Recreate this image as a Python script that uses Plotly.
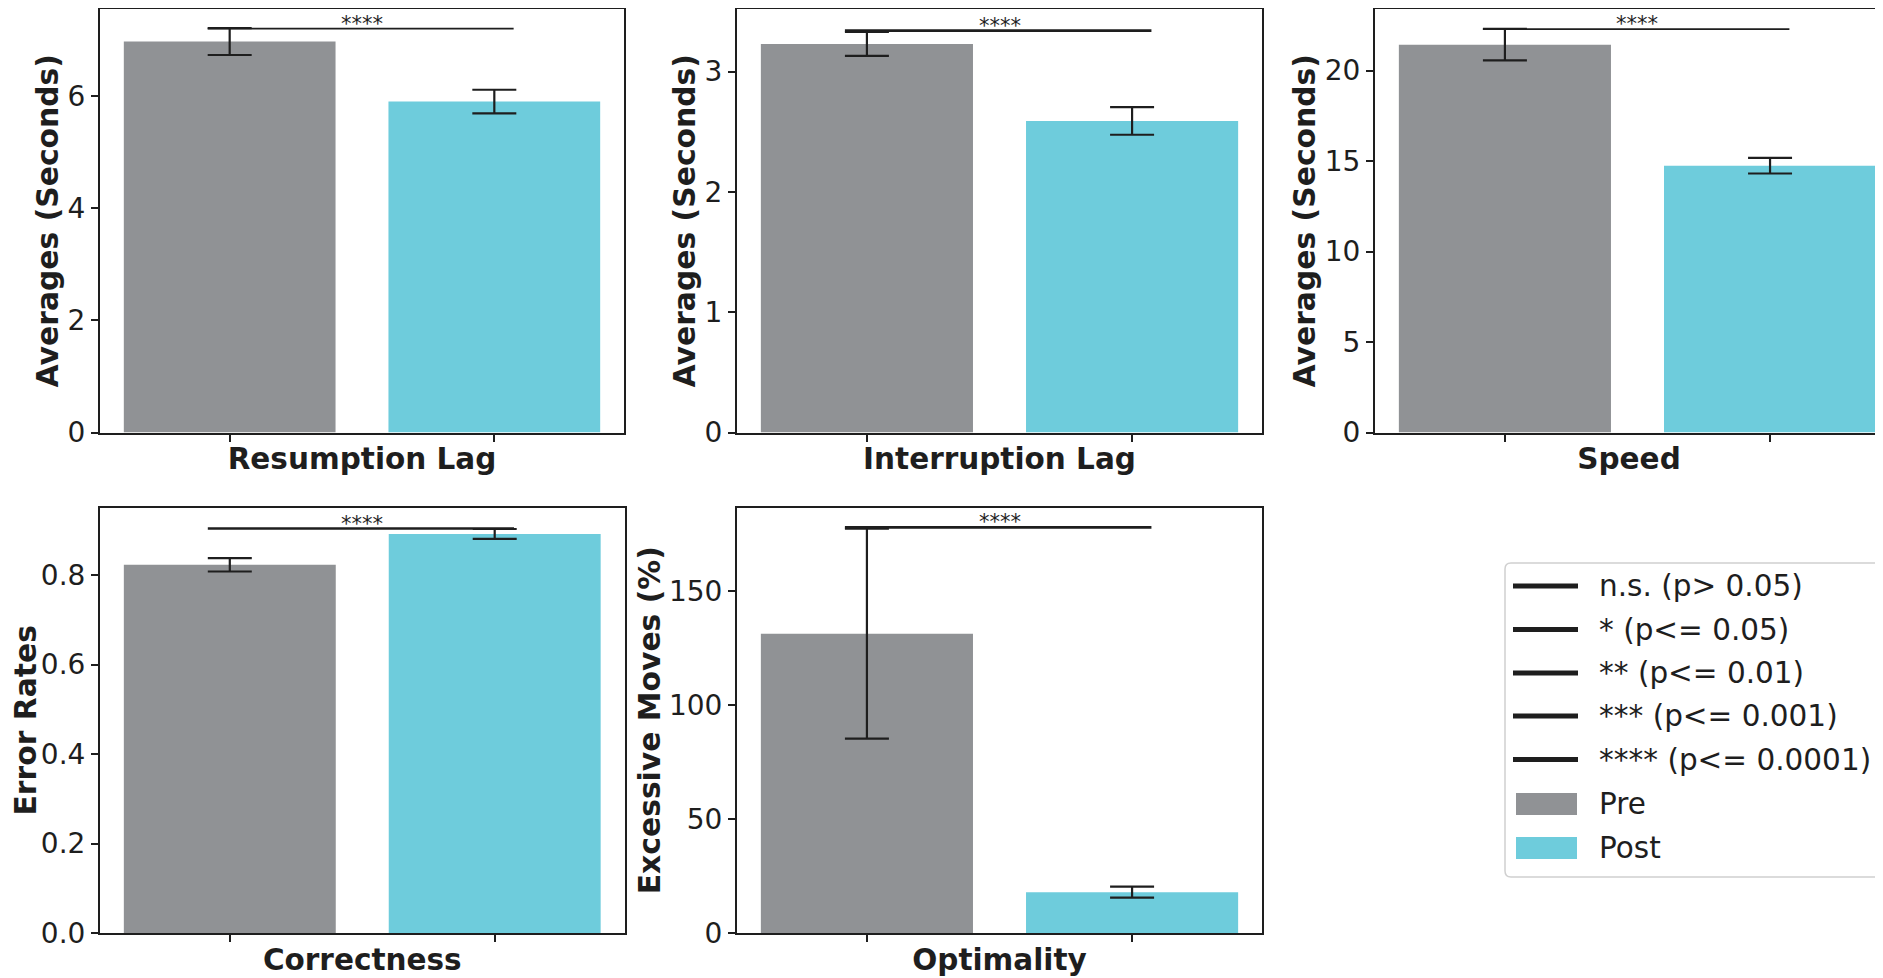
import plotly.graph_objects as go

# ---------------- data ----------------
metrics = ["Resumption Lag", "Interruption Lag", "Speed", "Correctness", "Optimality"]
y_titles = ["Averages (Seconds)", "Averages (Seconds)", "Averages (Seconds)",
            "Error Rates", "Excessive Moves (%)"]
groups = ["Pre", "Post"]
pre_mean = [6.97, 3.23, 21.43, 0.823, 131.2]
pre_err = [0.24, 0.10, 0.87, 0.015, 46.0]
post_mean = [5.90, 2.59, 14.74, 0.892, 17.9]
post_err = [0.21, 0.115, 0.43, 0.011, 2.4]
sig_level = [7.20, 3.34, 22.29, 0.904, 177.8]
sig_text = ["****", "****", "****", "****", "****"]
y_tick_vals = [[0, 2, 4, 6], [0, 1, 2, 3], [0, 5, 10, 15, 20],
               [0, 0.2, 0.4, 0.6, 0.8], [0, 50, 100, 150]]
y_tick_text = [["0", "2", "4", "6"], ["0", "1", "2", "3"], ["0", "5", "10", "15", "20"],
               ["0.0", "0.2", "0.4", "0.6", "0.8"], ["0", "50", "100", "150"]]
y_max = [7.55, 3.52, 23.4, 0.951, 186.5]
legend_labels = ["n.s. (p> 0.05)", "* (p<= 0.05)", "** (p<= 0.01)",
                 "*** (p<= 0.001)", "**** (p<= 0.0001)"]

# ---------------- style / layout ----------------
PAGE_W, PAGE_H = 1883, 978
OFF = 8                      # default body margin of the html page
W, H = PAGE_W - OFF, PAGE_H - OFF
GRAY = "#909295"
CYAN = "#6ECCDC"
INK = "#1e1e1e"
FONT = "DejaVu Sans"

# panel frames in page pixels: (left, right, top, bottom)
frames = [(100, 624, 9, 432.5), (737, 1262, 9, 432.5), (1375, 1883, 9, 432.5),
          (100, 624.5, 507.5, 933), (737, 1262, 507.5, 933)]
x_ranges = [[-0.49, 1.49], [-0.49, 1.49], [-0.49, 1.426], [-0.49, 1.49], [-0.49, 1.49]]
sig_line_w = [1.6, 2.6, 1.6, 2.6, 2.6]


def px(x):
    return (x - OFF) / W


def py(y):
    return 1 - (y - OFF) / H


fig = go.Figure()
layout = dict(
    width=W, height=H, margin=dict(l=0, r=0, t=0, b=0, autoexpand=False),
    paper_bgcolor="white", plot_bgcolor="white", barmode="overlay",
    showlegend=False, font=dict(family=FONT, color=INK),
)
annotations = []
shapes = []

for i in range(5):
    n = "" if i == 0 else str(i + 1)
    xa, ya = "x" + n, "y" + n
    l, r, t, b = frames[i]
    for j, (g, m, e, c) in enumerate(zip(groups, [pre_mean[i], post_mean[i]],
                                         [pre_err[i], post_err[i]], [GRAY, CYAN])):
        fig.add_trace(go.Bar(
            x=[j], y=[m], name=g, width=0.8, marker=dict(color=c, line=dict(width=0)),
            error_y=dict(type="data", array=[e], color=INK, thickness=2.2, width=22),
            xaxis=xa, yaxis=ya, showlegend=False,
        ))
    # significance bracket
    fig.add_trace(go.Scatter(
        x=[-0.083, 1.073], y=[sig_level[i], sig_level[i]], mode="lines",
        line=dict(color=INK, width=sig_line_w[i]), xaxis=xa, yaxis=ya,
        showlegend=False, hoverinfo="skip",
    ))
    annotations.append(dict(
        x=0.5, y=sig_level[i], xref=xa, yref=ya, text=sig_text[i], showarrow=False,
        xanchor="center", yanchor="bottom", yshift=-9,
        font=dict(family=FONT, size=21, color=INK),
    ))
    layout["xaxis" + n] = dict(
        domain=[px(l), min(1.0, px(r))], range=x_ranges[i], anchor=ya,
        tickvals=[0, 1], showticklabels=False, ticks="outside", ticklen=7,
        tickwidth=1.6, tickcolor=INK, showline=True, linecolor=INK, linewidth=2,
        mirror=True, showgrid=False, zeroline=False, fixedrange=True, automargin=False,
        title=dict(text=metrics[i], standoff=8,
                   font=dict(family=FONT, size=29.5, weight="bold", color=INK)),
    )
    layout["yaxis" + n] = dict(
        domain=[py(b), min(1.0, py(t))], range=[0, y_max[i]], anchor=xa,
        tickvals=y_tick_vals[i], ticktext=y_tick_text[i], ticks="outside",
        ticklen=7, tickwidth=1.6, tickcolor=INK, showline=True, linecolor=INK,
        linewidth=2, mirror=(i != 2), showgrid=False, zeroline=False,
        tickfont=dict(family=FONT, size=28, color=INK), fixedrange=True, automargin=False,
        title=dict(text=y_titles[i], standoff=0,
                   font=dict(family=FONT, size=29.8, weight="bold", color=INK)),
    )

# ---------------- legend (drawn manually) ----------------
bx0, bx1, by0, by1, rad = 1505, 1882, 563, 877, 6
path = (f"M {px(bx0 + rad)} {py(by0)} L {px(bx1 - rad)} {py(by0)} "
        f"Q {px(bx1)} {py(by0)} {px(bx1)} {py(by0 + rad)} "
        f"L {px(bx1)} {py(by1 - rad)} Q {px(bx1)} {py(by1)} {px(bx1 - rad)} {py(by1)} "
        f"L {px(bx0 + rad)} {py(by1)} Q {px(bx0)} {py(by1)} {px(bx0)} {py(by1 - rad)} "
        f"L {px(bx0)} {py(by0 + rad)} Q {px(bx0)} {py(by0)} {px(bx0 + rad)} {py(by0)} Z")
shapes.append(dict(type="path", path=path, xref="paper", yref="paper",
                   line=dict(color="#d0d0d0", width=1.5), fillcolor="rgba(255,255,255,0.8)"))
row_y = [586, 629.5, 673, 716, 759.5, 804, 848]
for k, lab in enumerate(legend_labels):
    yy = row_y[k]
    shapes.append(dict(type="line", xref="paper", yref="paper",
                       x0=px(1513), x1=px(1578), y0=py(yy), y1=py(yy),
                       line=dict(color=INK, width=5)))
    annotations.append(dict(x=px(1597), y=py(yy), xref="paper", yref="paper",
                            text=lab, showarrow=False, xanchor="left", yanchor="middle",
                            font=dict(family=FONT, size=29.5, color=INK)))
for k, (g, c) in enumerate(zip(groups, [GRAY, CYAN])):
    yy = row_y[5 + k]
    shapes.append(dict(type="rect", xref="paper", yref="paper",
                       x0=px(1516), x1=px(1577), y0=py(yy - 11), y1=py(yy + 11),
                       fillcolor=c, line=dict(width=0)))
    annotations.append(dict(x=px(1597), y=py(yy), xref="paper", yref="paper",
                            text=g, showarrow=False, xanchor="left", yanchor="middle",
                            font=dict(family=FONT, size=29.5, color=INK)))

layout["annotations"] = annotations
layout["shapes"] = shapes
fig.update_layout(**layout)
fig.write_html("out.html")
